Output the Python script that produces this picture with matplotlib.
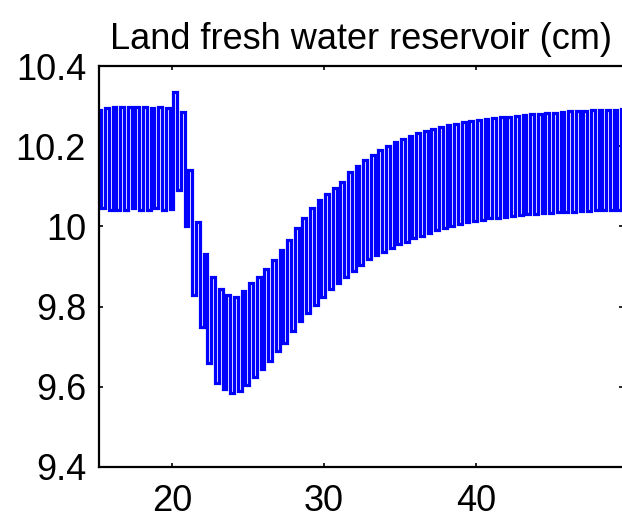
import numpy as np
import matplotlib
matplotlib.use("Agg")
import matplotlib.pyplot as plt

plt.rcParams['font.family'] = ['Liberation Sans', 'DejaVu Sans']

# seasonal cycle: one high and one low value per half unit
t_first_high = 15.2
t_first_low = 15.45
t_step = 0.5

highs = [10.29, 10.295, 10.298, 10.298, 10.298, 10.298, 10.298, 10.295, 10.298, 10.295,
         10.335, 10.285, 10.14, 10.01, 9.93, 9.875, 9.845, 9.83, 9.825, 9.84,
         9.86, 9.875, 9.895, 9.915, 9.94, 9.965, 9.995, 10.02, 10.045, 10.065,
         10.08, 10.095, 10.11, 10.135, 10.15, 10.165, 10.178, 10.19, 10.2, 10.21,
         10.218, 10.225, 10.232, 10.238, 10.243, 10.248, 10.252, 10.256, 10.26, 10.262,
         10.265, 10.268, 10.27, 10.272, 10.274, 10.276, 10.278, 10.28, 10.281, 10.283,
         10.284, 10.286, 10.287, 10.288, 10.289, 10.29, 10.29, 10.291, 10.291, 10.292]

lows = [10.045, 10.04, 10.042, 10.04, 10.045, 10.04, 10.042, 10.045, 10.04, 10.043,
        10.09, 10.0, 9.83, 9.75, 9.66, 9.61, 9.595, 9.585, 9.59, 9.605,
        9.625, 9.645, 9.665, 9.69, 9.71, 9.74, 9.765, 9.785, 9.805, 9.825,
        9.845, 9.86, 9.875, 9.89, 9.905, 9.918, 9.928, 9.937, 9.945, 9.955,
        9.962, 9.97, 9.977, 9.984, 9.99, 9.996, 10.002, 10.007, 10.011, 10.014,
        10.017, 10.02, 10.022, 10.024, 10.026, 10.028, 10.03, 10.031, 10.033, 10.034,
        10.035, 10.036, 10.037, 10.038, 10.039, 10.04, 10.04, 10.041, 10.041, 10.042]

x_ticks = [20, 30, 40]
y_ticks = [9.4, 9.6, 9.8, 10, 10.2, 10.4]
y_tick_labels = ['9.4', '9.6', '9.8', '10', '10.2', '10.4']

# interleave highs and lows into one line
n = len(highs)
t_high = t_first_high + t_step * np.arange(n)
t_low = t_first_low + t_step * np.arange(n)
t = np.empty(2 * n)
v = np.empty(2 * n)
t[0::2] = t_high
t[1::2] = t_low
v[0::2] = highs
v[1::2] = lows

fig = plt.figure(figsize=(6.22, 5.18), dpi=100)
ax = fig.add_axes([0.1584, 0.0985, 0.8435, 0.774])
ax.plot(t, v, color='#0000ff', linewidth=2.3, drawstyle='steps-mid',
        solid_joinstyle='miter')

ax.set_xlim(15.15, 49.7)
ax.set_ylim(9.4, 10.4)
ax.set_xticks(x_ticks)
ax.set_yticks(y_ticks)
ax.set_yticklabels(y_tick_labels)
ax.tick_params(direction='in', length=3, width=1.2, labelsize=26,
               top=True, right=True)
ax.tick_params(axis='y', pad=9)
ax.tick_params(axis='x', pad=12)
for s in ax.spines.values():
    s.set_linewidth(1.6)

ax.set_title('Land fresh water reservoir (cm)', fontsize=26, pad=12)

fig.savefig('out.png', dpi=100)
